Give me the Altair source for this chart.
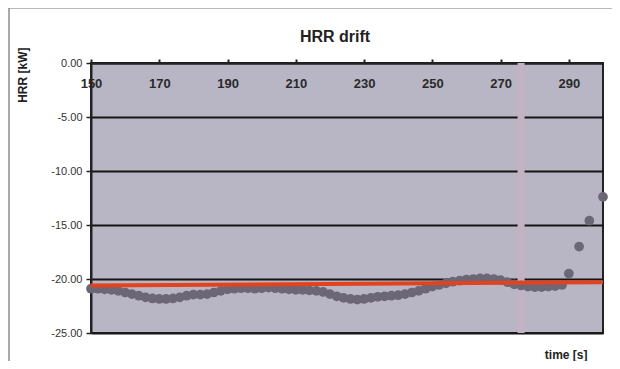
import altair as alt
import pandas as pd

# ---- data ----
time_s = [150, 152, 154, 156, 158, 160, 162, 164, 166, 168,
          170, 172, 174, 176, 178, 180, 182, 184, 186, 188,
          190, 192, 194, 196, 198, 200, 202, 204, 206, 208,
          210, 212, 214, 216, 218, 220, 222, 224, 226, 228,
          230, 232, 234, 236, 238, 240, 242, 244, 246, 248,
          250, 252, 254, 256, 258, 260, 262, 264, 266, 268,
          270, 272, 274, 276, 278, 280, 282, 284, 286, 288,
          290, 293, 296, 300]
hrr_kw = [-20.9, -20.9, -20.95, -21.0, -21.1, -21.25, -21.4, -21.55, -21.7, -21.8,
          -21.85, -21.85, -21.8, -21.7, -21.55, -21.45, -21.45, -21.4, -21.25, -21.1,
          -20.95, -20.9, -20.85, -20.85, -20.9, -20.85, -20.8, -20.85, -20.9, -20.95,
          -21.0, -21.0, -21.05, -21.1, -21.2, -21.4, -21.6, -21.75, -21.85, -21.9,
          -21.85, -21.75, -21.65, -21.6, -21.55, -21.5, -21.4, -21.25, -21.1, -20.9,
          -20.7, -20.55, -20.4, -20.25, -20.15, -20.05, -20.0, -19.95, -19.95, -20.0,
          -20.1, -20.3, -20.5, -20.6, -20.7, -20.75, -20.75, -20.7, -20.65, -20.55,
          -19.5, -17.0, -14.6, -12.4]
fit_time = [150, 300]
fit_hrr = [-20.6, -20.3]
x_ticks = [150, 170, 190, 210, 230, 250, 270, 290]
y_ticks = [0, -5, -10, -15, -20, -25]
band_time = [276]

pts = pd.DataFrame({"time": time_s, "hrr": hrr_kw})
fit = pd.DataFrame({"time": fit_time, "hrr": fit_hrr})
band = pd.DataFrame({"time": band_time})

FONT = "Liberation Sans"
xscale = alt.Scale(domain=[150, 300], nice=False, zero=False)
yscale = alt.Scale(domain=[-25, 0], nice=False, zero=False)

x_top = alt.X(
    "time:Q", scale=xscale,
    axis=alt.Axis(orient="top", values=x_ticks, format="d", title=None,
                  labelFont=FONT, labelFontSize=13, labelFontWeight="bold",
                  labelColor="#2a2a2a", labelBaseline="middle", labelPadding=-24,
                  labelFlush=False, tickSize=4, tickColor="#222", tickWidth=2,
                  domainColor="#222", domainWidth=2, grid=False),
)
y_ax = alt.Y(
    "hrr:Q", scale=yscale,
    axis=alt.Axis(values=y_ticks, title="HRR [kW]",
                  labelExpr="replace(format(datum.value, '.2f'), '\u2212', '-')",
                  titleAngle=270, titleX=-69, titleY=-16, titleAlign="right",
                  titleBaseline="middle", titleFont=FONT, titleFontSize=12,
                  titleFontWeight="bold", titleColor="#222",
                  labelFont=FONT, labelFontSize=11, labelColor="#333",
                  labelPadding=4, tickSize=5, tickColor="#222", tickWidth=1.5,
                  domainColor="#222", domainWidth=2,
                  grid=True, gridColor="#151515", gridWidth=2),
)

band_layer = alt.Chart(band).mark_rule(color="#c1b3c4", strokeWidth=7).encode(
    x=alt.X("time:Q", scale=xscale, axis=None)
)

points = alt.Chart(pts).mark_circle(size=95, color="#6c6777", opacity=1, clip=False).encode(
    x=x_top, y=y_ax
)

line = alt.Chart(fit).mark_line(color="#e3421e", strokeWidth=4).encode(
    x=alt.X("time:Q", scale=xscale,
            axis=alt.Axis(orient="bottom", title="time [s]", labels=False,
                          ticks=False, domain=False, grid=False,
                          titleFont=FONT, titleFontSize=12, titleFontWeight="bold",
                          titleColor="#222", titleX=496, titleY=21,
                          titleAlign="right", titleBaseline="middle")),
    y=y_ax,
)

frame_left = alt.Chart(band).mark_rule(color="#555", strokeWidth=1, clip=False).encode(
    x=alt.value(-82), y=alt.value(-55), y2=alt.value(306)
)
frame_top = alt.Chart(band).mark_rule(color="#777", strokeWidth=1, clip=False).encode(
    x=alt.value(-82), x2=alt.value(529), y=alt.value(-55)
)

chart = (
    alt.layer(band_layer, points, line, frame_left, frame_top)
    .resolve_axis(x="independent")
    .properties(
        width=512, height=270,
        title=alt.TitleParams("HRR drift", font=FONT, fontSize=16,
                              fontWeight="bold", color="#222", offset=-37,
                              frame="group", dx=-12),
        autosize=alt.AutoSizeParams(type="none"),
        padding={"left": 83, "top": 55, "right": 9, "bottom": 28},
    )
    .configure(background="white",
               view=alt.ViewConfig(fill="#b8b6c5", stroke="#222", strokeWidth=2))
)

chart.save("out.html", embed_options={"renderer": "svg", "actions": False})
